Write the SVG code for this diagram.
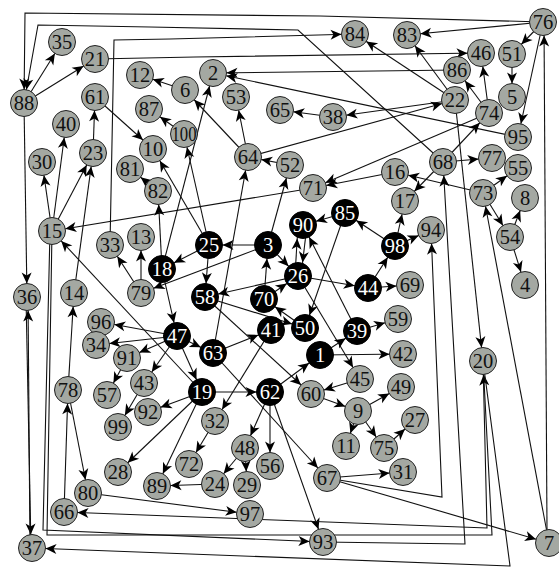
<svg xmlns="http://www.w3.org/2000/svg" width="559" height="568" viewBox="0 0 559 568">
<style>
.g circle{fill:#a4a8a2;stroke:#222;stroke-width:1}
.b circle{fill:#000;stroke:#000;stroke-width:1}
text{font-family:"Liberation Serif","Times New Roman",serif;font-size:20.5px;text-anchor:middle}
.g text{fill:#111}
.b text{fill:#fff}
</style>
<defs>
<marker id="a" markerUnits="userSpaceOnUse" viewBox="0 0 32 14" markerWidth="32" markerHeight="14" refX="32" refY="7" orient="auto">
<path d="M18.5,7 L7.5,2 L10.5,7 L7.5,12 Z" fill="#000"/>
</marker>
</defs>
<rect width="559" height="568" fill="#fff"/>
<g id="edges" fill="none" stroke="#111" stroke-width="1.1" marker-end="url(#a)">
<line x1="24" y1="103" x2="62" y2="42" marker-end="url(#a)"/>
<line x1="24" y1="103" x2="95" y2="59" marker-end="url(#a)"/>
<line x1="24" y1="103" x2="27" y2="297" marker-end="url(#a)"/>
<line x1="543" y1="22" x2="407" y2="35" marker-end="url(#a)"/>
<line x1="543" y1="22" x2="512" y2="54" marker-end="url(#a)"/>
<line x1="543" y1="22" x2="518" y2="137" marker-end="url(#a)"/>
<line x1="547" y1="530" x2="544" y2="22" marker-end="url(#a)"/>
<line x1="512" y1="54" x2="512" y2="97" marker-end="url(#a)"/>
<line x1="489" y1="113" x2="481" y2="53" marker-end="url(#a)"/>
<line x1="489" y1="113" x2="457" y2="70" marker-end="url(#a)"/>
<line x1="455" y1="100" x2="407" y2="35" marker-end="url(#a)"/>
<line x1="455" y1="100" x2="355" y2="34" marker-end="url(#a)"/>
<line x1="518" y1="137" x2="213" y2="73" marker-end="url(#a)"/>
<line x1="457" y1="70" x2="213" y2="73" marker-end="url(#a)"/>
<line x1="455" y1="100" x2="333" y2="117" marker-end="url(#a)"/>
<line x1="333" y1="117" x2="280" y2="110" marker-end="url(#a)"/>
<line x1="248" y1="157" x2="455" y2="100" marker-end="url(#a)"/>
<line x1="489" y1="113" x2="313" y2="188" marker-end="url(#a)"/>
<line x1="443" y1="162" x2="489" y2="113" marker-end="url(#a)"/>
<line x1="443" y1="162" x2="492" y2="158" marker-end="url(#a)"/>
<line x1="483" y1="193" x2="518" y2="168" marker-end="url(#a)"/>
<line x1="455" y1="100" x2="483" y2="361" marker-end="url(#a)"/>
<line x1="483" y1="193" x2="510" y2="237" marker-end="url(#a)"/>
<line x1="549" y1="543" x2="483" y2="193" marker-end="url(#a)"/>
<line x1="510" y1="237" x2="525" y2="198" marker-end="url(#a)"/>
<line x1="510" y1="237" x2="525" y2="285" marker-end="url(#a)"/>
<line x1="483" y1="193" x2="395" y2="172" marker-end="url(#a)"/>
<line x1="443" y1="162" x2="405" y2="201" marker-end="url(#a)"/>
<line x1="395" y1="172" x2="313" y2="188" marker-end="url(#a)"/>
<line x1="313" y1="188" x2="52" y2="231" marker-end="url(#a)"/>
<line x1="202" y1="392" x2="52" y2="231" marker-end="url(#a)"/>
<line x1="141" y1="293" x2="110" y2="245" marker-end="url(#a)"/>
<line x1="141" y1="293" x2="141" y2="237" marker-end="url(#a)"/>
<line x1="68" y1="390" x2="74" y2="293" marker-end="url(#a)"/>
<line x1="74" y1="293" x2="93" y2="153" marker-end="url(#a)"/>
<line x1="52" y1="231" x2="42" y2="162" marker-end="url(#a)"/>
<line x1="52" y1="231" x2="66" y2="124" marker-end="url(#a)"/>
<line x1="52" y1="231" x2="93" y2="153" marker-end="url(#a)"/>
<line x1="93" y1="153" x2="95" y2="97" marker-end="url(#a)"/>
<line x1="95" y1="97" x2="153" y2="149" marker-end="url(#a)"/>
<line x1="177" y1="336" x2="101" y2="322" marker-end="url(#a)"/>
<line x1="177" y1="336" x2="96" y2="345" marker-end="url(#a)"/>
<line x1="177" y1="336" x2="127" y2="358" marker-end="url(#a)"/>
<line x1="127" y1="358" x2="107" y2="395" marker-end="url(#a)"/>
<line x1="162" y1="269" x2="158" y2="191" marker-end="url(#a)"/>
<line x1="158" y1="191" x2="130" y2="169" marker-end="url(#a)"/>
<line x1="209" y1="245" x2="153" y2="149" marker-end="url(#a)"/>
<line x1="209" y1="245" x2="184" y2="134" marker-end="url(#a)"/>
<line x1="162" y1="269" x2="213" y2="73" marker-end="url(#a)"/>
<line x1="184" y1="134" x2="149" y2="109" marker-end="url(#a)"/>
<line x1="185" y1="90" x2="140" y2="75" marker-end="url(#a)"/>
<line x1="248" y1="157" x2="185" y2="90" marker-end="url(#a)"/>
<line x1="248" y1="157" x2="236" y2="97" marker-end="url(#a)"/>
<line x1="290" y1="165" x2="248" y2="157" marker-end="url(#a)"/>
<line x1="213" y1="353" x2="248" y2="157" marker-end="url(#a)"/>
<line x1="268" y1="245" x2="290" y2="165" marker-end="url(#a)"/>
<line x1="268" y1="245" x2="209" y2="245" marker-end="url(#a)"/>
<line x1="209" y1="245" x2="162" y2="269" marker-end="url(#a)"/>
<line x1="268" y1="245" x2="141" y2="293" marker-end="url(#a)"/>
<line x1="209" y1="245" x2="205" y2="297" marker-end="url(#a)"/>
<line x1="162" y1="269" x2="177" y2="336" marker-end="url(#a)"/>
<line x1="298" y1="276" x2="205" y2="297" marker-end="url(#a)"/>
<line x1="205" y1="297" x2="311" y2="394" marker-end="url(#a)"/>
<line x1="264" y1="299" x2="268" y2="245" marker-end="url(#a)"/>
<line x1="305" y1="328" x2="264" y2="299" marker-end="url(#a)"/>
<line x1="213" y1="353" x2="271" y2="330" marker-end="url(#a)"/>
<line x1="177" y1="336" x2="213" y2="353" marker-end="url(#a)"/>
<line x1="177" y1="336" x2="202" y2="392" marker-end="url(#a)"/>
<line x1="270" y1="392" x2="323" y2="542" marker-end="url(#a)"/>
<line x1="271" y1="330" x2="215" y2="421" marker-end="url(#a)"/>
<line x1="213" y1="353" x2="327" y2="478" marker-end="url(#a)"/>
<line x1="202" y1="392" x2="270" y2="392" marker-end="url(#a)"/>
<line x1="270" y1="392" x2="245" y2="448" marker-end="url(#a)"/>
<line x1="270" y1="392" x2="270" y2="466" marker-end="url(#a)"/>
<line x1="270" y1="392" x2="320" y2="355" marker-end="url(#a)"/>
<line x1="202" y1="392" x2="148" y2="412" marker-end="url(#a)"/>
<line x1="202" y1="392" x2="157" y2="486" marker-end="url(#a)"/>
<line x1="202" y1="392" x2="118" y2="472" marker-end="url(#a)"/>
<line x1="215" y1="421" x2="189" y2="464" marker-end="url(#a)"/>
<line x1="245" y1="448" x2="215" y2="484" marker-end="url(#a)"/>
<line x1="245" y1="448" x2="247" y2="485" marker-end="url(#a)"/>
<line x1="215" y1="484" x2="157" y2="486" marker-end="url(#a)"/>
<line x1="144" y1="383" x2="118" y2="427" marker-end="url(#a)"/>
<line x1="177" y1="336" x2="144" y2="383" marker-end="url(#a)"/>
<line x1="345" y1="213" x2="303" y2="225" marker-end="url(#a)"/>
<line x1="295" y1="276" x2="298" y2="225" marker-end="url(#a)"/>
<line x1="307" y1="225" x2="301" y2="276" marker-end="url(#a)"/>
<line x1="357" y1="331" x2="303" y2="225" marker-end="url(#a)"/>
<line x1="345" y1="213" x2="305" y2="328" marker-end="url(#a)"/>
<line x1="395" y1="246" x2="345" y2="213" marker-end="url(#a)"/>
<line x1="395" y1="246" x2="405" y2="201" marker-end="url(#a)"/>
<line x1="395" y1="246" x2="431" y2="230" marker-end="url(#a)"/>
<line x1="368" y1="288" x2="395" y2="246" marker-end="url(#a)"/>
<line x1="368" y1="288" x2="410" y2="285" marker-end="url(#a)"/>
<line x1="298" y1="276" x2="368" y2="288" marker-end="url(#a)"/>
<line x1="298" y1="276" x2="360" y2="379" marker-end="url(#a)"/>
<line x1="357" y1="331" x2="398" y2="319" marker-end="url(#a)"/>
<line x1="320" y1="355" x2="403" y2="354" marker-end="url(#a)"/>
<line x1="320" y1="355" x2="357" y2="331" marker-end="url(#a)"/>
<line x1="268" y1="245" x2="298" y2="276" marker-end="url(#a)"/>
<line x1="264" y1="299" x2="298" y2="276" marker-end="url(#a)"/>
<line x1="360" y1="379" x2="311" y2="394" marker-end="url(#a)"/>
<line x1="311" y1="394" x2="358" y2="411" marker-end="url(#a)"/>
<line x1="358" y1="411" x2="401" y2="387" marker-end="url(#a)"/>
<line x1="358" y1="411" x2="346" y2="446" marker-end="url(#a)"/>
<line x1="358" y1="411" x2="384" y2="448" marker-end="url(#a)"/>
<line x1="384" y1="448" x2="415" y2="420" marker-end="url(#a)"/>
<line x1="327" y1="478" x2="403" y2="472" marker-end="url(#a)"/>
<line x1="205" y1="297" x2="305" y2="328" marker-end="url(#a)"/>
<line x1="64" y1="512" x2="68" y2="390" marker-end="url(#a)"/>
<line x1="68" y1="390" x2="88" y2="493" marker-end="url(#a)"/>
<line x1="88" y1="493" x2="250" y2="514" marker-end="url(#a)"/>
<line x1="26" y1="297" x2="31" y2="548" marker-end="url(#a)"/>
<line x1="30" y1="548" x2="28" y2="297" marker-end="url(#a)"/>
<line x1="327" y1="478" x2="549" y2="543" marker-end="url(#a)"/>
<path d="M543,22 L320,16 L25,13 L24,103" marker-end="url(#a)"/>
<path d="M443,162 L298,30 L150,27 L38,25 L24,103" marker-end="url(#a)"/>
<path d="M110,245 L114,40 L170,39 L355,34" marker-end="url(#a)"/>
<path d="M95,59 L195,57 L481,53" marker-end="url(#a)"/>
<path d="M327,478 L442,497 L431,230" marker-end="url(#a)"/>
<path d="M323,542 L465,544 L443,162" marker-end="url(#a)"/>
<path d="M483,361 L487,528 L64,512" marker-end="url(#a)"/>
<path d="M50,231 L43,530 L323,542" marker-end="url(#a)"/>
<path d="M52,231 L47,535 L492,535 L483,361" marker-end="url(#a)"/>
<path d="M483,361 L510,566 L32,548" marker-end="url(#a)"/>
</g>
<g id="n35" class="g"><circle cx="62" cy="42" r="13.5"/><text x="62" y="49">35</text></g>
<g id="n21" class="g"><circle cx="95" cy="59" r="13.5"/><text x="95" y="66">21</text></g>
<g id="n88" class="g"><circle cx="24" cy="103" r="13.5"/><text x="24" y="110">88</text></g>
<g id="n84" class="g"><circle cx="355" cy="34" r="13.5"/><text x="355" y="41">84</text></g>
<g id="n83" class="g"><circle cx="407" cy="35" r="13.5"/><text x="407" y="42">83</text></g>
<g id="n76" class="g"><circle cx="543" cy="22" r="13.5"/><text x="543" y="29">76</text></g>
<g id="n46" class="g"><circle cx="481" cy="53" r="13.5"/><text x="481" y="60">46</text></g>
<g id="n51" class="g"><circle cx="512" cy="54" r="13.5"/><text x="512" y="61">51</text></g>
<g id="n86" class="g"><circle cx="457" cy="70" r="13.5"/><text x="457" y="77">86</text></g>
<g id="n12" class="g"><circle cx="140" cy="75" r="13.5"/><text x="140" y="82">12</text></g>
<g id="n2" class="g"><circle cx="213" cy="73" r="13.5"/><text x="213" y="80">2</text></g>
<g id="n6" class="g"><circle cx="185" cy="90" r="13.5"/><text x="185" y="97">6</text></g>
<g id="n53" class="g"><circle cx="236" cy="97" r="13.5"/><text x="236" y="104">53</text></g>
<g id="n61" class="g"><circle cx="95" cy="97" r="13.5"/><text x="95" y="104">61</text></g>
<g id="n22" class="g"><circle cx="455" cy="100" r="13.5"/><text x="455" y="107">22</text></g>
<g id="n5" class="g"><circle cx="512" cy="97" r="13.5"/><text x="512" y="104">5</text></g>
<g id="n65" class="g"><circle cx="280" cy="110" r="13.5"/><text x="280" y="117">65</text></g>
<g id="n38" class="g"><circle cx="333" cy="117" r="13.5"/><text x="333" y="124">38</text></g>
<g id="n74" class="g"><circle cx="489" cy="113" r="13.5"/><text x="489" y="120">74</text></g>
<g id="n95" class="g"><circle cx="518" cy="137" r="13.5"/><text x="518" y="144">95</text></g>
<g id="n87" class="g"><circle cx="149" cy="109" r="13.5"/><text x="149" y="116">87</text></g>
<g id="n100" class="g"><circle cx="184" cy="134" r="13.5"/><text x="184" y="141" textLength="25" lengthAdjust="spacingAndGlyphs">100</text></g>
<g id="n40" class="g"><circle cx="66" cy="124" r="13.5"/><text x="66" y="131">40</text></g>
<g id="n10" class="g"><circle cx="153" cy="149" r="13.5"/><text x="153" y="156">10</text></g>
<g id="n64" class="g"><circle cx="248" cy="157" r="13.5"/><text x="248" y="164">64</text></g>
<g id="n52" class="g"><circle cx="290" cy="165" r="13.5"/><text x="290" y="172">52</text></g>
<g id="n68" class="g"><circle cx="443" cy="162" r="13.5"/><text x="443" y="169">68</text></g>
<g id="n77" class="g"><circle cx="492" cy="158" r="13.5"/><text x="492" y="165">77</text></g>
<g id="n55" class="g"><circle cx="518" cy="168" r="13.5"/><text x="518" y="175">55</text></g>
<g id="n16" class="g"><circle cx="395" cy="172" r="13.5"/><text x="395" y="179">16</text></g>
<g id="n71" class="g"><circle cx="313" cy="188" r="13.5"/><text x="313" y="195">71</text></g>
<g id="n30" class="g"><circle cx="42" cy="162" r="13.5"/><text x="42" y="169">30</text></g>
<g id="n23" class="g"><circle cx="93" cy="153" r="13.5"/><text x="93" y="160">23</text></g>
<g id="n81" class="g"><circle cx="130" cy="169" r="13.5"/><text x="130" y="176">81</text></g>
<g id="n82" class="g"><circle cx="158" cy="191" r="13.5"/><text x="158" y="198">82</text></g>
<g id="n73" class="g"><circle cx="483" cy="193" r="13.5"/><text x="483" y="200">73</text></g>
<g id="n17" class="g"><circle cx="405" cy="201" r="13.5"/><text x="405" y="208">17</text></g>
<g id="n8" class="g"><circle cx="525" cy="198" r="13.5"/><text x="525" y="205">8</text></g>
<g id="n54" class="g"><circle cx="510" cy="237" r="13.5"/><text x="510" y="244">54</text></g>
<g id="n94" class="g"><circle cx="431" cy="230" r="13.5"/><text x="431" y="237">94</text></g>
<g id="n4" class="g"><circle cx="525" cy="285" r="13.5"/><text x="525" y="292">4</text></g>
<g id="n15" class="g"><circle cx="52" cy="231" r="13.5"/><text x="52" y="238">15</text></g>
<g id="n33" class="g"><circle cx="110" cy="245" r="13.5"/><text x="110" y="252">33</text></g>
<g id="n13" class="g"><circle cx="141" cy="237" r="13.5"/><text x="141" y="244">13</text></g>
<g id="n79" class="g"><circle cx="141" cy="293" r="13.5"/><text x="141" y="300">79</text></g>
<g id="n36" class="g"><circle cx="27" cy="297" r="13.5"/><text x="27" y="304">36</text></g>
<g id="n14" class="g"><circle cx="74" cy="293" r="13.5"/><text x="74" y="300">14</text></g>
<g id="n69" class="g"><circle cx="410" cy="285" r="13.5"/><text x="410" y="292">69</text></g>
<g id="n59" class="g"><circle cx="398" cy="319" r="13.5"/><text x="398" y="326">59</text></g>
<g id="n42" class="g"><circle cx="403" cy="354" r="13.5"/><text x="403" y="361">42</text></g>
<g id="n96" class="g"><circle cx="101" cy="322" r="13.5"/><text x="101" y="329">96</text></g>
<g id="n34" class="g"><circle cx="96" cy="345" r="13.5"/><text x="96" y="352">34</text></g>
<g id="n91" class="g"><circle cx="127" cy="358" r="13.5"/><text x="127" y="365">91</text></g>
<g id="n57" class="g"><circle cx="107" cy="395" r="13.5"/><text x="107" y="402">57</text></g>
<g id="n43" class="g"><circle cx="144" cy="383" r="13.5"/><text x="144" y="390">43</text></g>
<g id="n78" class="g"><circle cx="68" cy="390" r="13.5"/><text x="68" y="397">78</text></g>
<g id="n99" class="g"><circle cx="118" cy="427" r="13.5"/><text x="118" y="434">99</text></g>
<g id="n92" class="g"><circle cx="148" cy="412" r="13.5"/><text x="148" y="419">92</text></g>
<g id="n45" class="g"><circle cx="360" cy="379" r="13.5"/><text x="360" y="386">45</text></g>
<g id="n49" class="g"><circle cx="401" cy="387" r="13.5"/><text x="401" y="394">49</text></g>
<g id="n60" class="g"><circle cx="311" cy="394" r="13.5"/><text x="311" y="401">60</text></g>
<g id="n9" class="g"><circle cx="358" cy="411" r="13.5"/><text x="358" y="418">9</text></g>
<g id="n27" class="g"><circle cx="415" cy="420" r="13.5"/><text x="415" y="427">27</text></g>
<g id="n11" class="g"><circle cx="346" cy="446" r="13.5"/><text x="346" y="453">11</text></g>
<g id="n75" class="g"><circle cx="384" cy="448" r="13.5"/><text x="384" y="455">75</text></g>
<g id="n32" class="g"><circle cx="215" cy="421" r="13.5"/><text x="215" y="428">32</text></g>
<g id="n48" class="g"><circle cx="245" cy="448" r="13.5"/><text x="245" y="455">48</text></g>
<g id="n56" class="g"><circle cx="270" cy="466" r="13.5"/><text x="270" y="473">56</text></g>
<g id="n72" class="g"><circle cx="189" cy="464" r="13.5"/><text x="189" y="471">72</text></g>
<g id="n24" class="g"><circle cx="215" cy="484" r="13.5"/><text x="215" y="491">24</text></g>
<g id="n29" class="g"><circle cx="247" cy="485" r="13.5"/><text x="247" y="492">29</text></g>
<g id="n89" class="g"><circle cx="157" cy="486" r="13.5"/><text x="157" y="493">89</text></g>
<g id="n28" class="g"><circle cx="118" cy="472" r="13.5"/><text x="118" y="479">28</text></g>
<g id="n80" class="g"><circle cx="88" cy="493" r="13.5"/><text x="88" y="500">80</text></g>
<g id="n66" class="g"><circle cx="64" cy="512" r="13.5"/><text x="64" y="519">66</text></g>
<g id="n97" class="g"><circle cx="250" cy="514" r="13.5"/><text x="250" y="521">97</text></g>
<g id="n67" class="g"><circle cx="327" cy="478" r="13.5"/><text x="327" y="485">67</text></g>
<g id="n31" class="g"><circle cx="403" cy="472" r="13.5"/><text x="403" y="479">31</text></g>
<g id="n93" class="g"><circle cx="323" cy="542" r="13.5"/><text x="323" y="549">93</text></g>
<g id="n37" class="g"><circle cx="32" cy="548" r="13.5"/><text x="32" y="555">37</text></g>
<g id="n7" class="g"><circle cx="549" cy="543" r="13.5"/><text x="549" y="550">7</text></g>
<g id="n20" class="g"><circle cx="483" cy="361" r="13.5"/><text x="483" y="368">20</text></g>
<g id="n90" class="b"><circle cx="303" cy="225" r="13.5"/><text x="303" y="232">90</text></g>
<g id="n85" class="b"><circle cx="345" cy="213" r="13.5"/><text x="345" y="220">85</text></g>
<g id="n98" class="b"><circle cx="395" cy="246" r="13.5"/><text x="395" y="253">98</text></g>
<g id="n3" class="b"><circle cx="268" cy="245" r="13.5"/><text x="268" y="252">3</text></g>
<g id="n25" class="b"><circle cx="209" cy="245" r="13.5"/><text x="209" y="252">25</text></g>
<g id="n18" class="b"><circle cx="162" cy="269" r="13.5"/><text x="162" y="276">18</text></g>
<g id="n26" class="b"><circle cx="298" cy="276" r="13.5"/><text x="298" y="283">26</text></g>
<g id="n44" class="b"><circle cx="368" cy="288" r="13.5"/><text x="368" y="295">44</text></g>
<g id="n58" class="b"><circle cx="205" cy="297" r="13.5"/><text x="205" y="304">58</text></g>
<g id="n70" class="b"><circle cx="264" cy="299" r="13.5"/><text x="264" y="306">70</text></g>
<g id="n50" class="b"><circle cx="305" cy="328" r="13.5"/><text x="305" y="335">50</text></g>
<g id="n41" class="b"><circle cx="271" cy="330" r="13.5"/><text x="271" y="337">41</text></g>
<g id="n47" class="b"><circle cx="177" cy="336" r="13.5"/><text x="177" y="343">47</text></g>
<g id="n39" class="b"><circle cx="357" cy="331" r="13.5"/><text x="357" y="338">39</text></g>
<g id="n63" class="b"><circle cx="213" cy="353" r="13.5"/><text x="213" y="360">63</text></g>
<g id="n1" class="b"><circle cx="320" cy="355" r="13.5"/><text x="320" y="362">1</text></g>
<g id="n19" class="b"><circle cx="202" cy="392" r="13.5"/><text x="202" y="399">19</text></g>
<g id="n62" class="b"><circle cx="270" cy="392" r="13.5"/><text x="270" y="399">62</text></g>
</svg>
